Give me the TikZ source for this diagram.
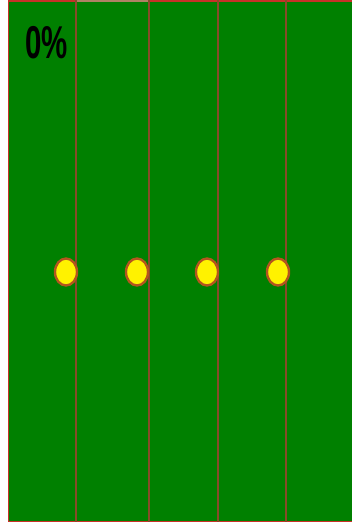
\documentclass[tikz,border=0pt]{standalone}
\usepackage{fontspec}
\setmainfont{Liberation Sans}
\definecolor{field}{RGB}{0,128,0}
\definecolor{edge}{RGB}{200,50,40}
\definecolor{lane}{RGB}{135,75,40}
\definecolor{ring}{RGB}{180,85,30}
\definecolor{dull}{RGB}{175,130,100}
\begin{document}
\begin{tikzpicture}[x=1pt, y=-1pt]
\useasboundingbox (0,0) rectangle (352,528);
\fill[field] (8,0) rectangle (352,522);
\draw[edge, line width=1.5pt] (352,1) -- (8.5,1) -- (8.5,521.5) -- (352,521.5); \draw[dull, line width=1.5pt] (77,1) -- (149,1);
\foreach \x in {76,149,218,286} \draw[lane, line width=2.4pt] (\x,0) -- (\x,522);
\foreach \x in {66,137,207,278} \draw[ring, fill=yellow, line width=2.4pt] (\x,272) ellipse (11 and 13.5);
\node[anchor=base west, inner sep=0pt, xscale=0.64, font=\fontsize{46}{46}\selectfont\bfseries] (pct) at (25,58) {0\%};
\end{tikzpicture}
\end{document}
